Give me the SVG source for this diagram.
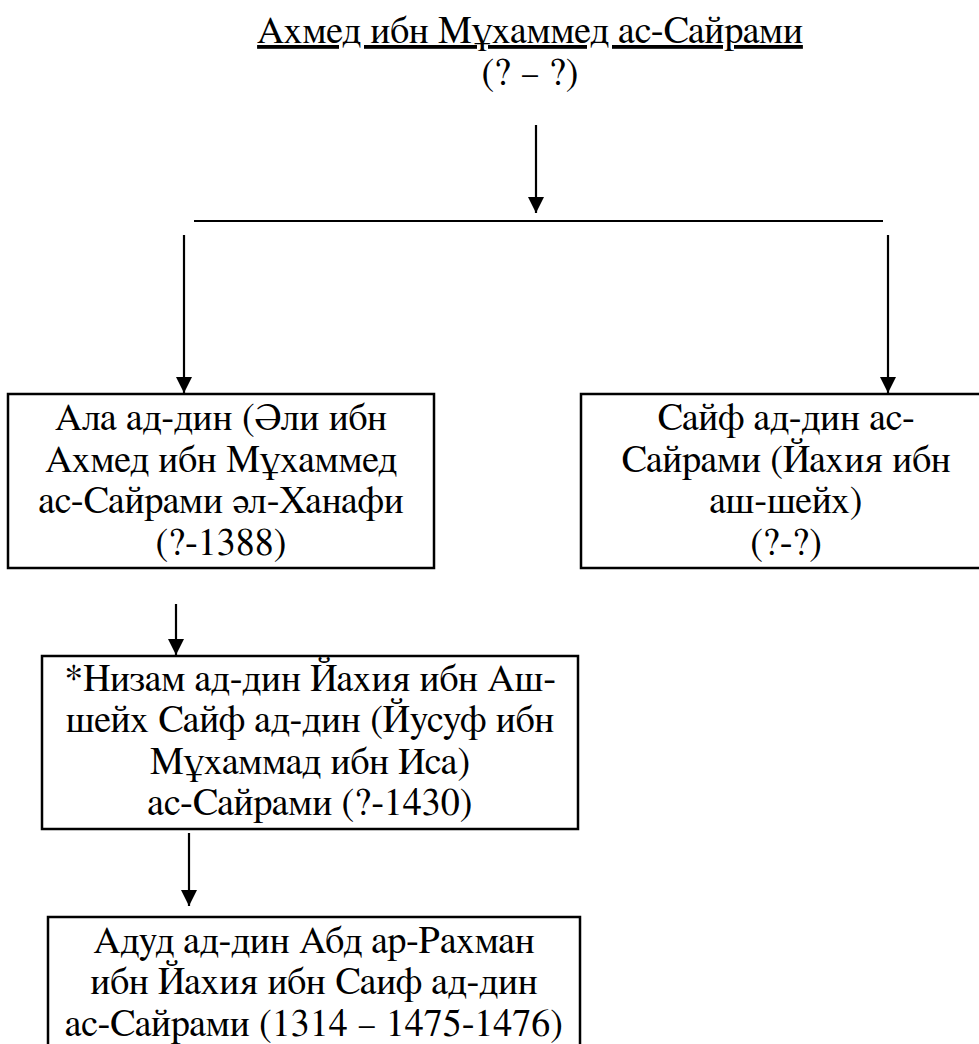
<svg xmlns="http://www.w3.org/2000/svg" width="979" height="1044" viewBox="0 0 979 1044">
<style>
  .t { font-family: FreeSerif, 'Liberation Serif', 'Times New Roman', serif; font-size: 38px; fill: #000; text-anchor: middle; }
  .box { fill: #fff; stroke: #000; stroke-width: 2.5; }
  .conn { stroke: #000; stroke-width: 2.2; fill: none; }
</style>
<defs>
  <marker id="arrow" markerUnits="userSpaceOnUse" markerWidth="17" markerHeight="17" refX="16" refY="8" orient="auto">
    <path d="M0,0 L16,8 L0,16 Z" fill="#000"/>
  </marker>
</defs>
<rect width="979" height="1044" fill="#fff"/>

<g id="connectors">
  <line class="conn" x1="536" y1="125" x2="536" y2="213" marker-end="url(#arrow)"/>
  <line class="conn" x1="194" y1="221" x2="883" y2="221"/>
  <line class="conn" x1="184" y1="235" x2="184" y2="393" marker-end="url(#arrow)"/>
  <line class="conn" x1="888" y1="235" x2="888" y2="393" marker-end="url(#arrow)"/>
  <line class="conn" x1="176" y1="604" x2="176" y2="655" marker-end="url(#arrow)"/>
  <line class="conn" x1="189" y1="833" x2="189" y2="906" marker-end="url(#arrow)"/>
</g>

<g id="root">
  <text class="t" x="530" y="43" text-decoration="underline">Ахмед ибн Мұхаммед ас-Сайрами</text>
  <text class="t" x="530" y="85">(? – ?)</text>
</g>

<g id="ala">
  <rect class="box" x="8" y="394" width="426" height="174"/>
  <text class="t" x="221" y="430">Ала ад-дин (Әли ибн</text>
  <text class="t" x="221" y="472">Ахмед ибн Мұхаммед</text>
  <text class="t" x="221" y="513">ас-Сайрами әл-Ханафи</text>
  <text class="t" x="221" y="555">(?-1388)</text>
</g>

<g id="saif">
  <rect class="box" x="581" y="394" width="410" height="174"/>
  <text class="t" x="786" y="430">Сайф ад-дин ас-</text>
  <text class="t" x="786" y="472">Сайрами (Йахия ибн</text>
  <text class="t" x="786" y="513">аш-шейх)</text>
  <text class="t" x="786" y="555">(?-?)</text>
</g>

<g id="nizam">
  <rect class="box" x="42" y="656" width="536" height="173"/>
  <text class="t" x="310" y="691">*Низам ад-дин Йахия ибн Аш-</text>
  <text class="t" x="310" y="732">шейх Сайф ад-дин (Йусуф ибн</text>
  <text class="t" x="310" y="774">Мұхаммад ибн Иса)</text>
  <text class="t" x="310" y="815">ас-Сайрами (?-1430)</text>
</g>

<g id="adud">
  <rect class="box" x="48" y="917" width="532" height="140"/>
  <text class="t" x="314" y="953">Адуд ад-дин Абд ар-Рахман</text>
  <text class="t" x="314" y="994">ибн Йахия ибн Саиф ад-дин</text>
  <text class="t" x="314" y="1036">ас-Сайрами (1314 – 1475-1476)</text>
</g>
</svg>
